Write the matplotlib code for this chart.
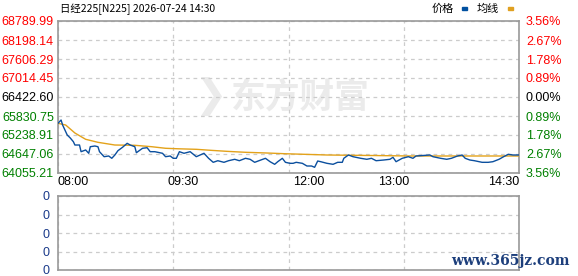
import matplotlib
matplotlib.use("Agg")
import matplotlib.pyplot as plt

# ---------------- data ----------------
title = "日经225[N225] 2026-07-24 14:30"
price_minutes = [0, 2, 3, 6, 8, 10, 11, 14, 15, 18, 20, 21, 24, 26, 27, 30, 33, 35, 37, 39,
                 42, 45, 47, 50, 51, 55, 58, 60, 63, 68, 70, 73, 75, 77, 79, 82, 86, 90,
                 95, 98, 101, 104, 108, 111, 115, 118, 122, 125, 128, 132, 135, 138, 141,
                 143, 146, 148, 151, 153, 155, 159, 162, 165, 167, 169, 171, 175, 179, 182,
                 185, 186, 189, 192, 197, 201, 204, 207, 212, 216, 218, 220, 224, 228, 231,
                 233, 242, 244, 249, 253, 256, 260, 263, 265, 268, 271, 276, 280, 283, 287,
                 290, 293, 296, 300]
price_values = [65603, 65706, 65550, 65239, 65145, 65030, 64927, 64927, 64719, 64772, 64669,
                64874, 64896, 64874, 64719, 64563, 64585, 64513, 64616, 64750, 64856, 64980,
                64927, 64874, 64687, 64825, 64843, 64719, 64719, 64669, 64563, 64585, 64513,
                64513, 64719, 64669, 64719, 64563, 64669, 64513, 64388, 64438, 64388, 64438,
                64482, 64438, 64513, 64482, 64388, 64460, 64513, 64407, 64326, 64407, 64513,
                64388, 64357, 64357, 64388, 64357, 64273, 64273, 64233, 64429, 64407, 64357,
                64326, 64388, 64388, 64513, 64616, 64563, 64513, 64482, 64513, 64438, 64460,
                64482, 64544, 64407, 64513, 64563, 64513, 64585, 64616, 64563, 64513, 64482,
                64513, 64585, 64616, 64513, 64460, 64438, 64388, 64388, 64407, 64482, 64563,
                64638, 64616, 64616]
avg_minutes = [0, 5, 11, 18, 26, 37, 50, 61, 70, 78, 90, 100, 110, 122, 135, 148, 160, 175,
               205, 229, 300]
avg_values = [65603, 65550, 65301, 65105, 65011, 64927, 64918, 64874, 64825, 64810, 64793,
              64760, 64730, 64700, 64680, 64655, 64638, 64616, 64600, 64585, 64585]
price_labels = ["68789.99", "68198.14", "67606.29", "67014.45", "66422.60",
                "65830.75", "65238.91", "64647.06", "64055.21"]
pct_labels = ["3.56%", "2.67%", "1.78%", "0.89%", "0.00%",
              "0.89%", "1.78%", "2.67%", "3.56%"]
time_labels = ["08:00", "09:30", "12:00", "13:00", "14:30"]
volume_labels = ["0", "0", "0", "0", "0"]

# ---------------- style ----------------
W, H = 578, 276
fig = plt.figure(figsize=(W / 100, H / 100), dpi=100)
fig.patch.set_facecolor("white")
CJK = ["Noto Sans CJK SC", "DejaVu Sans"]
NUM = ["Liberation Sans", "DejaVu Sans"]
RED, BLACK, GREEN = "#ff0000", "#000000", "#008000"
GRID = "#cccccc"
SPINE = "#999999"
BLUE = "#0b4f9e"
ORANGE = "#e3a21a"

def fx(x):
    return x / W

def fy(y):
    return 1 - y / H

L, R = 58, 519
ax = fig.add_axes([fx(L), fy(173), (R - L) / W, (173 - 21) / H])
ymin, ymax = float(price_labels[-1]), float(price_labels[0])
ax.set_xlim(0, 300)
ax.set_ylim(ymin, ymax)
tick_vals = [float(s) for s in price_labels]
ax.set_yticks(tick_vals)
ax.set_yticklabels(price_labels, fontsize=9, family=NUM)
colors = [RED] * 4 + [BLACK] + [GREEN] * 4
for t, c in zip(ax.get_yticklabels(), colors):
    t.set_color(c)
ax.set_xticks([0, 75, 150, 225, 300])
ax.set_xticklabels([])
ax.tick_params(length=0, pad=3)
ax.grid(True, color=GRID, linestyle=(0, (3, 3)), linewidth=0.9)
for s in ax.spines.values():
    s.set_color(SPINE)
    s.set_linewidth(1.2)

ax2 = ax.twinx()
ax2.set_ylim(ymin, ymax)
ax2.set_yticks(tick_vals)
ax2.set_yticklabels(pct_labels, fontsize=9, family=NUM)
for t, c in zip(ax2.get_yticklabels(), colors):
    t.set_color(c)
ax2.tick_params(length=0, pad=5)
for s in ax2.spines.values():
    s.set_visible(False)

# watermark
ax.text(0.525, 0.5, "东方财富", transform=ax.transAxes, ha="center", va="center",
        fontsize=25, fontweight="bold", color="#ebebeb", family=CJK, zorder=0)
ax.text(0.33, 0.5, "❯", transform=ax.transAxes, ha="center", va="center",
        fontsize=28, fontweight="bold", color="#ebebeb", family=["DejaVu Sans"], zorder=0)

ax.plot(avg_minutes, avg_values, color=ORANGE, linewidth=1.0, zorder=3)
ax.plot(price_minutes, price_values, color=BLUE, linewidth=1.0, zorder=4)

# bottom panel
ax3 = fig.add_axes([fx(L), fy(270), (R - L) / W, (270 - 196) / H])
ax3.set_xlim(0, 300)
ax3.set_ylim(0, 4)
ax3.set_yticks(range(len(volume_labels)))
ax3.set_yticklabels(volume_labels, fontsize=9, family=NUM, color="#1a3a8a")
ax3.set_xticks([0, 75, 150, 225, 300])
ax3.set_xticklabels([])
ax3.tick_params(length=0, pad=6)
ax3.grid(True, color=GRID, linestyle=(0, (3, 3)), linewidth=0.9)
for s in ax3.spines.values():
    s.set_color(SPINE)
    s.set_linewidth(1.2)

# time labels
label_x = [58, 183, 309, 394, 519]
aligns = ["left", "center", "center", "center", "right"]
for lab, x, a in zip(time_labels, label_x, aligns):
    fig.text(fx(x), fy(182), lab, ha=a, va="center", fontsize=9, family=NUM, color=BLACK)

# title & legend
fig.text(fx(60), fy(9), title, ha="left", va="center", fontsize=7.5, family=CJK, color=BLACK)
fig.text(fx(432), fy(9), "价格", ha="left", va="center", fontsize=8, family=CJK, color=BLACK)
fig.patches.append(plt.Rectangle((fx(462), fy(10)), 5 / W, 3 / H, transform=fig.transFigure,
                                 color="#0050a0"))
fig.text(fx(477), fy(9), "均线", ha="left", va="center", fontsize=8, family=CJK, color=BLACK)
fig.patches.append(plt.Rectangle((fx(508), fy(10)), 5 / W, 3 / H, transform=fig.transFigure,
                                 color="#e0a020"))

fig.text(fx(570), fy(261), "www.365jz.com", ha="right", va="center", fontsize=10,
         fontweight="bold", family=["DejaVu Serif"], color="#1d3f7c")

fig.savefig("out.png", dpi=100, facecolor="white")
